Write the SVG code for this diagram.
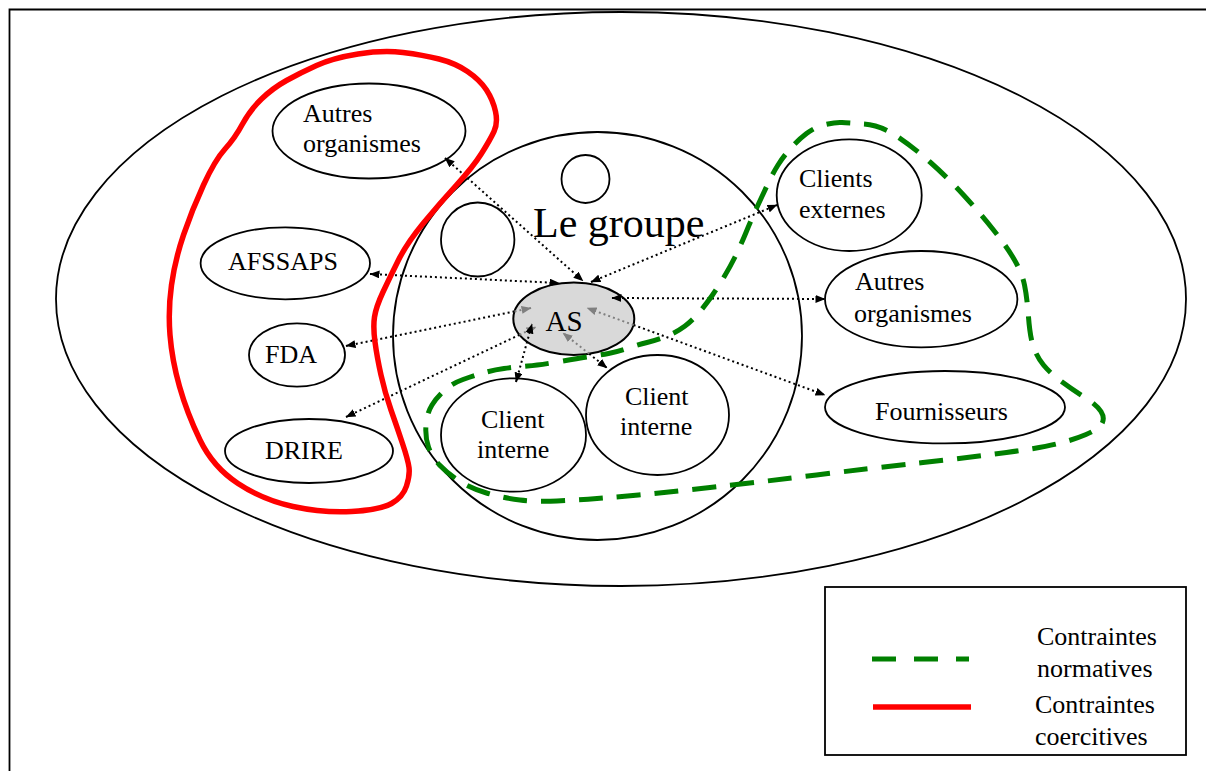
<svg xmlns="http://www.w3.org/2000/svg" width="1206" height="771" viewBox="0 0 1206 771">
<style>
.n{fill:none;stroke:#000;stroke-width:1.8}
.t{font-family:"Liberation Serif","Times New Roman",serif;font-size:26px;fill:#000}
.c{fill:none;stroke:#000;stroke-width:2;stroke-dasharray:2 3}
.cg{stroke:#808080}
.red{fill:none;stroke:#f00;stroke-width:5.5;stroke-linejoin:round}
.grn{fill:none;stroke:#008000;stroke-width:5;stroke-dasharray:24 14;stroke-linejoin:round}
</style>
<defs>
<marker id="ab" viewBox="0 0 10 8" refX="9.5" refY="4" markerWidth="10" markerHeight="8" markerUnits="userSpaceOnUse" orient="auto-start-reverse"><path d="M0,0L10,4L0,8z" fill="#000"/></marker>
<marker id="ag" viewBox="0 0 10 8" refX="9.5" refY="4" markerWidth="10" markerHeight="8" markerUnits="userSpaceOnUse" orient="auto-start-reverse"><path d="M0,0L10,4L0,8z" fill="#808080"/></marker>
</defs>
<rect width="1206" height="771" fill="#fff"/>
<path class="n" d="M9.5,771V9.5H1206" stroke-width="1.5"/>
<ellipse id="environment" class="n" cx="621" cy="299" rx="565" ry="287" stroke-width="1.5"/>
<g id="le-groupe">
<ellipse class="n" cx="597.5" cy="336" rx="204.5" ry="204"/>
<text class="t" x="533" y="237" style="font-size:42px">Le groupe</text>
</g>
<g id="circle-small"><circle class="n" cx="585.5" cy="179" r="24"/></g>
<g id="circle-medium"><ellipse class="n" cx="477.7" cy="239.5" rx="36.7" ry="37"/></g>
<g id="as">
<ellipse cx="573.8" cy="318.7" rx="60.5" ry="36.3" fill="#d9d9d9" stroke="#000" stroke-width="2"/>
<text class="t" x="545.5" y="331" style="font-size:29px">AS</text>
</g>
<g id="autres-organismes-l">
<ellipse class="n" cx="369" cy="131" rx="96.5" ry="47.5"/>
<text class="t" x="303" y="122">Autres</text>
<text class="t" x="303" y="152">organismes</text>
</g>
<g id="afssaps">
<ellipse class="n" cx="285.3" cy="263.3" rx="84.7" ry="36"/>
<text class="t" x="228" y="270">AFSSAPS</text>
</g>
<g id="fda">
<ellipse class="n" cx="297" cy="355" rx="48" ry="31.7"/>
<text class="t" x="265" y="363">FDA</text>
</g>
<g id="drire">
<ellipse class="n" cx="309" cy="451" rx="84" ry="32"/>
<text class="t" x="265" y="459">DRIRE</text>
</g>
<g id="clients-externes">
<ellipse class="n" cx="849.2" cy="195.2" rx="72.5" ry="55.8"/>
<text class="t" x="799" y="187">Clients</text>
<text class="t" x="799" y="218">externes</text>
</g>
<g id="autres-organismes-r">
<ellipse class="n" cx="921.2" cy="299.2" rx="96.2" ry="48.2"/>
<text class="t" x="855" y="290">Autres</text>
<text class="t" x="854" y="322">organismes</text>
</g>
<g id="fournisseurs">
<ellipse class="n" cx="945" cy="407.2" rx="120" ry="36.2"/>
<text class="t" x="875" y="419.5">Fournisseurs</text>
</g>
<g id="client-interne-l">
<ellipse class="n" cx="513.5" cy="435" rx="72.5" ry="56.7"/>
<text class="t" x="481" y="428">Client</text>
<text class="t" x="477" y="458">interne</text>
</g>
<g id="client-interne-r">
<ellipse class="n" cx="657.5" cy="415" rx="71.5" ry="60"/>
<text class="t" x="625" y="405">Client</text>
<text class="t" x="620" y="435">interne</text>
</g>
<g id="connectors">
<path class="c" d="M445,158L583,281" marker-start="url(#ab)" marker-end="url(#ab)"/>
<path class="c" d="M370,274L559,283" marker-start="url(#ab)" marker-end="url(#ab)"/>
<path class="c" d="M346,346L514.5,311.4" marker-start="url(#ab)"/>
<path class="c cg" d="M514.5,311.4L531,308" marker-end="url(#ag)"/>
<path class="c" d="M346,417L519.5,334.8" marker-start="url(#ab)"/>
<path class="c cg" d="M519.5,334.8L536,327" marker-end="url(#ag)"/>
<path class="c" d="M516,382L532,324" marker-start="url(#ab)" marker-end="url(#ab)"/>
<path class="c" d="M589.2,353.8L607,368" marker-end="url(#ab)"/>
<path class="c cg" d="M589.2,353.8L563,333" marker-end="url(#ag)"/>
<path class="c" d="M633.6,325L825,395" marker-end="url(#ab)"/>
<path class="c cg" d="M633.6,325L587,308" marker-end="url(#ag)"/>
<path class="c" d="M612,298L825,299" marker-start="url(#ab)" marker-end="url(#ab)"/>
<path class="c" d="M591,282L777,205" marker-start="url(#ab)" marker-end="url(#ab)"/>
</g>
<g id="contraintes-coercitives">
<path class="red" d="M286.5,80.5Q300,73 316.5,65.5Q333,58 358,54Q383,50 403,52.5Q423,55 439,59Q455,63 467.5,71.5Q480,80 486.5,90Q493,100 495.5,111.5Q498,123 494,131.5Q490,140 481.5,153.5Q473,167 456.5,185Q440,203 423.5,223Q407,243 398.5,260Q390,277 383,292Q376,307 374.5,317Q373,327 375,342Q377,357 381,375Q385,393 391,410Q397,427 402.5,443.5Q408,460 409,467.5Q410,475 406.5,486Q403,497 391.5,503.5Q380,510 351.5,511.5Q323,513 293,506.5Q263,500 238,483.5Q213,467 200,440Q187,413 179.5,386.5Q172,360 170,335Q168,310 171.5,285Q175,260 183.5,235Q192,210 203.5,185Q215,160 225,149Q235,138 242.5,124Q250,110 261.5,99Q273,88 286.5,80.5Z"/>
</g>
<g id="contraintes-normatives">
<path class="grn" d="M864,124Q880,125 896.5,136Q913,147 930,162Q947,177 963.5,195Q980,213 993.5,230Q1007,247 1014.5,260Q1022,273 1024.5,285Q1027,297 1028.5,317Q1030,337 1033.5,347Q1037,357 1043.5,365Q1050,373 1061.5,381.5Q1073,390 1085,397.5Q1097,405 1101,411.5Q1105,418 1102,423.5Q1099,429 1086,434.5Q1073,440 1056.5,444Q1040,448 1006.5,452.5Q973,457 923,462.5Q873,468 816.5,475Q760,482 710,487.5Q660,493 638.5,495Q617,497 597,498.5Q577,500 557,501Q537,502 520,500Q503,498 486.5,493Q470,488 458.5,480.5Q447,473 439.5,465Q432,457 428.5,447Q425,437 426,425Q427,413 432,405Q437,397 445,390Q453,383 463,379.5Q473,376 483,373Q493,370 504,368.5Q515,367 527.5,366Q540,365 560,361.5Q580,358 590,356.5Q600,355 608.5,353.5Q617,352 627,348.5Q637,345 647,342.5Q657,340 667,336Q677,332 685,326Q693,320 700,311.5Q707,303 712.5,295Q718,287 724,277Q730,267 735,257Q740,247 746,232.5Q752,218 758,205Q764,192 768.5,182.5Q773,173 778,165Q783,157 790.5,148.5Q798,140 806.5,133.5Q815,127 825.5,124.5Q836,122 842,122.5Q848,123 864,124Z"/>
</g>
<g id="legend">
<rect class="n" x="825" y="587" width="361" height="168" stroke-width="1.5"/>
<path d="M872,659H969" stroke="#008000" stroke-width="5" stroke-dasharray="24 18"/>
<path d="M873,707H971" stroke="#f00" stroke-width="5.5"/>
<text class="t" x="1037" y="645">Contraintes</text>
<text class="t" x="1037" y="677">normatives</text>
<text class="t" x="1035" y="713">Contraintes</text>
<text class="t" x="1035" y="745">coercitives</text>
</g>
</svg>
